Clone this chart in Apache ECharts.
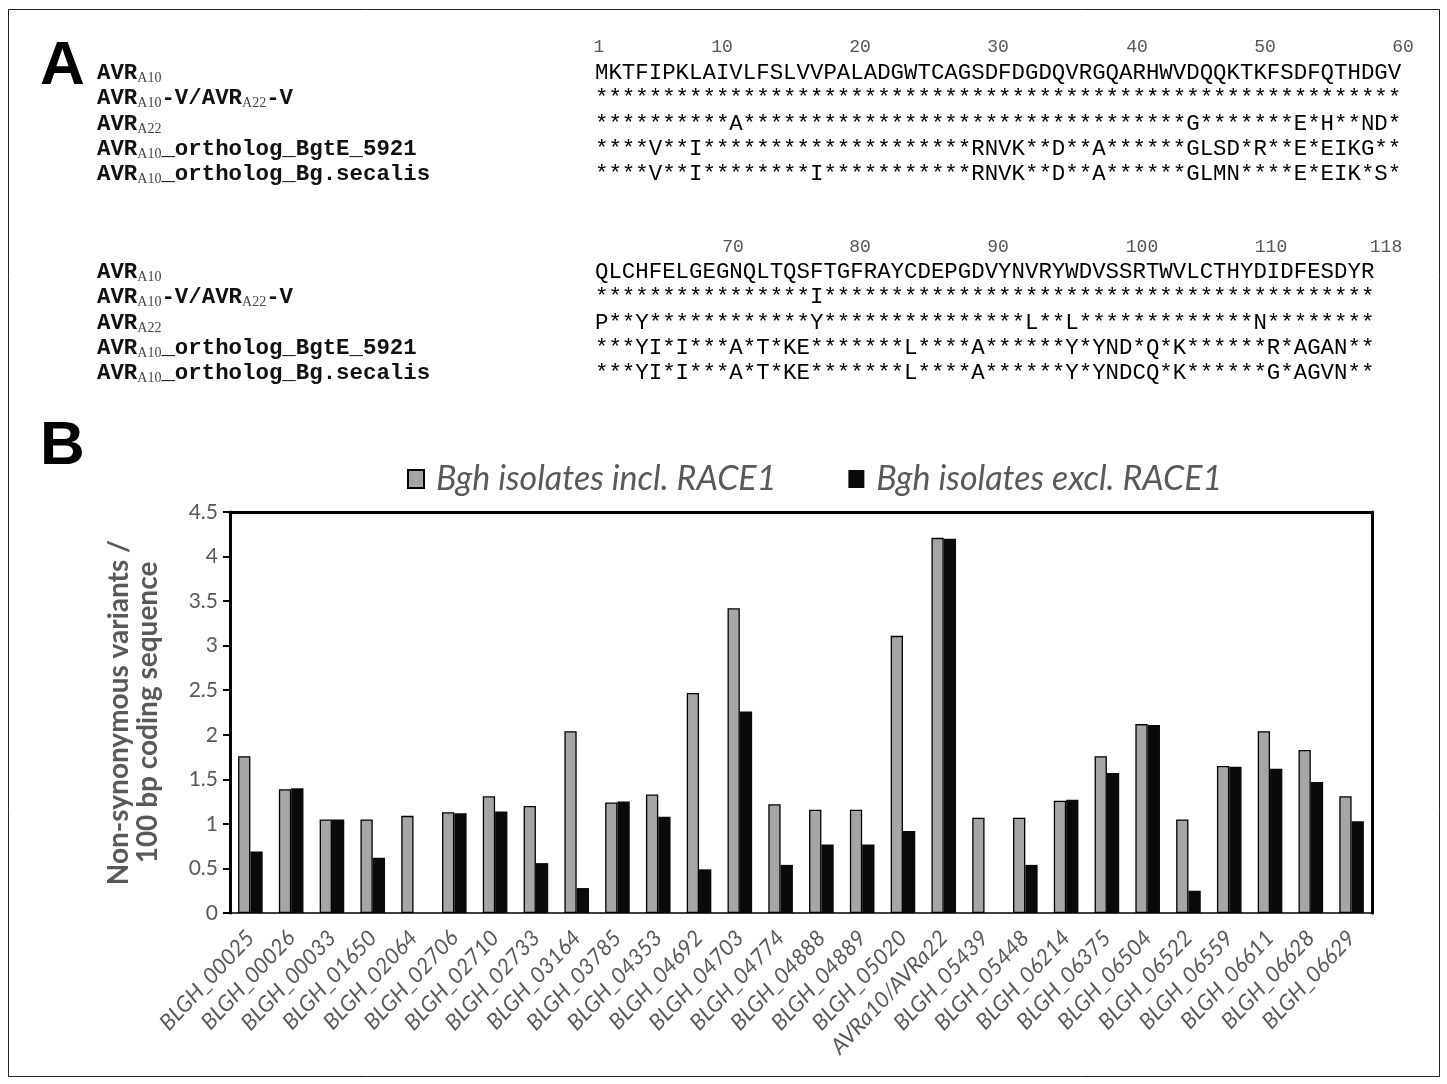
<!DOCTYPE html>
<html>
<head>
<meta charset="utf-8">
<script src="https://cdn.jsdelivr.net/npm/echarts@6/dist/echarts.min.js"></script>
<style>
html,body{margin:0;padding:0;background:#fff;}
#main{width:1447px;height:1084px;}
</style>
</head>
<body>
<div id="main"></div>
<script>
// ---------- Panel B data ----------
const categories = ['BLGH_00025','BLGH_00026','BLGH_00033','BLGH_01650','BLGH_02064','BLGH_02706','BLGH_02710','BLGH_02733','BLGH_03164','BLGH_03785','BLGH_04353','BLGH_04692','BLGH_04703','BLGH_04774','BLGH_04888','BLGH_04889','BLGH_05020','AVRa10/AVRa22','BLGH_05439','BLGH_05448','BLGH_06214','BLGH_06375','BLGH_06504','BLGH_06522','BLGH_06559','BLGH_06611','BLGH_06628','BLGH_06629'];
const inclRACE1 = [1.76,1.39,1.05,1.05,1.09,1.13,1.31,1.20,2.04,1.24,1.33,2.47,3.42,1.22,1.16,1.16,3.11,4.21,1.07,1.07,1.26,1.76,2.12,1.05,1.65,2.04,1.83,1.31];
const exclRACE1 = [0.69,1.40,1.05,0.62,0,1.12,1.14,0.56,0.28,1.25,1.08,0.49,2.26,0.54,0.77,0.77,0.92,4.20,0,0.54,1.27,1.57,2.11,0.25,1.64,1.62,1.47,1.03];
const seriesNames = ['Bgh isolates incl. RACE1','Bgh isolates excl. RACE1'];
const yTickLabels = ['0','0.5','1','1.5','2','2.5','3','3.5','4','4.5'];
const yAxisTitle = ['Non-synonymous variants /','100 bp coding sequence'];

// ---------- Panel A data ----------
const seqNames = ['AVR[A10]','AVR[A10]-V/AVR[A22]-V','AVR[A22]','AVR[A10]_ortholog_BgtE_5921','AVR[A10]_ortholog_Bg.secalis'];
const block1Numbers = ['1','10','20','30','40','50','60'];
const block1Seqs = [
  'MKTFIPKLAIVLFSLVVPALADGWTCAGSDFDGDQVRGQARHWVDQQKTKFSDFQTHDGV',
  '************************************************************',
  '**********A*********************************G*******E*H**ND*',
  '****V**I********************RNVK**D**A******GLSD*R**E*EIKG**',
  '****V**I********I***********RNVK**D**A******GLMN****E*EIK*S*'
];
const block2Numbers = ['70','80','90','100','110','118'];
const block2Seqs = [
  'QLCHFELGEGNQLTQSFTGFRAYCDEPGDVYNVRYWDVSSRTWVLCTHYDIDFESDYR',
  '****************I*****************************************',
  'P**Y************Y***************L**L*************N********',
  '***YI*I***A*T*KE*******L****A******Y*YND*Q*K******R*AGAN**',
  '***YI*I***A*T*KE*******L****A******Y*YNDCQ*K******G*AGVN**'
];
const panelLabels = ['A','B'];

// ---------- layout (positions only) ----------
const block1NumX = [599,722,860,998,1137,1265,1403];
const block2NumX = [733,860,998,1142,1271,1386];
const block1Y = [47,73,98,124,149,174];
const block2Y = [247,272,297,323,348,373];
const NAME_X = 97, SEQ_X = 595;
const MONO = '"Liberation Mono","DejaVu Sans Mono",monospace';
const SANS = 'Lato,"Open Sans","Noto Sans",sans-serif';
const GREY_TXT = '#595959';

function richName(s){
  let out = '';
  const re = /([^\[]+)|\[([^\]]+)\]/g; let m;
  while((m = re.exec(s))){
    if(m[1]) out += '{n|' + m[1] + '}';
    else out += '{s|' + m[2] + '}';
  }
  return out;
}

const graphics = [];
graphics.push({type:'rect', shape:{x:8.5,y:9.5,width:1431,height:1067}, style:{fill:'none',stroke:'#222',lineWidth:1}, silent:true});
graphics.push({type:'text', left:40, top:36, style:{text:panelLabels[0], font:'bold 62px "Liberation Sans",Arial,sans-serif', fill:'#000'}});
graphics.push({type:'text', left:40, top:416, style:{text:panelLabels[1], font:'bold 62px "Liberation Sans",Arial,sans-serif', fill:'#000'}});

function addBlock(nums, numX, seqs, ys){
  nums.forEach((n,i)=>{
    graphics.push({type:'text', x:numX[i], y:ys[0], style:{text:n, font:'18px '+MONO, fill:'#555', align:'center', verticalAlign:'middle'}});
  });
  seqNames.forEach((nm,i)=>{
    graphics.push({type:'text', x:NAME_X, y:ys[i+1], style:{
      text: richName(nm), align:'left', verticalAlign:'middle',
      rich:{
        n:{fontFamily:MONO, fontSize:22.4, fontWeight:'bold', fill:'#111', lineHeight:24},
        s:{fontFamily:'"Liberation Serif","DejaVu Serif",serif', fontSize:14, fill:'#444', verticalAlign:'bottom', lineHeight:24, padding:[6,0,0,0]}
      }
    }});
    graphics.push({type:'text', x:SEQ_X, y:ys[i+1], style:{text:seqs[i], font:'22.4px '+MONO, fill:'#000', align:'left', verticalAlign:'middle'}});
  });
}
addBlock(block1Numbers, block1NumX, block1Seqs, block1Y);
addBlock(block2Numbers, block2NumX, block2Seqs, block2Y);

const chart = echarts.init(document.getElementById('main'));
chart.setOption({
  backgroundColor:'#fff',
  animation:false,
  textStyle:{fontFamily:SANS},
  legend:{
    left:402, top:457, itemWidth:16, itemHeight:18, itemGap:72, icon:'rect',
    data:seriesNames,
    textStyle:{fontSize:34, fontStyle:'italic', color:GREY_TXT, fontFamily:SANS, padding:[0,0,0,7]}
  },
  grid:{left:230, right:75, top:512, bottom:171, containLabel:false},
  xAxis:[{
    type:'category', data:categories, position:'bottom',
    axisLine:{onZero:false, lineStyle:{color:'#000', width:1.5}},
    axisTick:{show:false},
    axisLabel:{rotate:47, interval:0, margin:21, fontSize:22, fontStyle:'italic', color:GREY_TXT, fontFamily:SANS}
  },{
    type:'category', data:categories, position:'top',
    axisLine:{show:true, onZero:false, lineStyle:{color:'#000', width:3}}, axisTick:{show:false}, axisLabel:{show:false}
  }],
  yAxis:[{
    type:'value', min:0, max:4.5, interval:0.5, position:'left',
    name: yAxisTitle.join('\n'), nameLocation:'middle', nameGap:68, nameRotate:90,
    nameTextStyle:{fontSize:28, fontWeight:'bold', color:GREY_TXT, fontFamily:SANS, lineHeight:29},
    axisLine:{show:true, onZero:false, lineStyle:{color:'#000', width:3}},
    axisTick:{show:true, inside:false, length:7, lineStyle:{color:'#000', width:2}},
    splitLine:{show:false},
    axisLabel:{fontSize:21, color:GREY_TXT, margin:12, fontFamily:SANS, formatter:(v)=>{const i=Math.round(v/0.5); return yTickLabels[i]!==undefined?yTickLabels[i]:v;}}
  },{
    type:'value', min:0, max:4.5, interval:0.5, position:'right',
    axisLine:{show:true, onZero:false, lineStyle:{color:'#000', width:3}}, axisTick:{show:false}, axisLabel:{show:false}, splitLine:{show:false}
  }],
  series:[{
    name:seriesNames[0], type:'bar', data:inclRACE1, barWidth:12.3, barGap:'0%',
    itemStyle:{color:'#a6a6a6', borderColor:'#000', borderWidth:1.3}
  },{
    name:seriesNames[1], type:'bar', data:exclRACE1, barWidth:12.3, barGap:'0%',
    itemStyle:{color:'#0a0a0a', borderColor:'#000', borderWidth:0}
  }],
  graphic:graphics
});
</script>
</body>
</html>
